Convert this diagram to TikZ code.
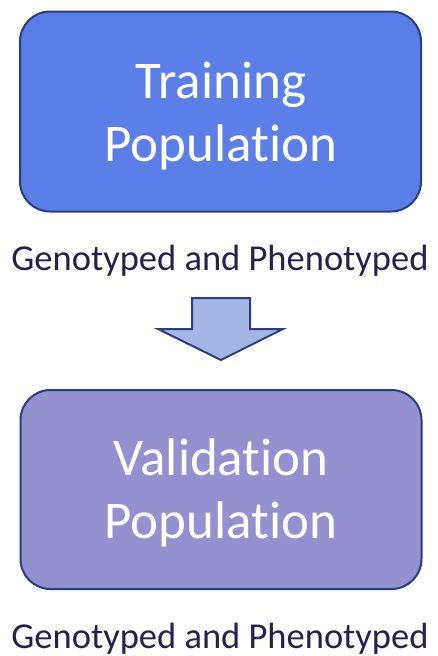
\documentclass[tikz,border=0pt]{standalone}
\usepackage{fontspec}
\setmainfont{Carlito}[Ligatures=NoCommon]
\definecolor{navyline}{RGB}{40,62,125}
\definecolor{trainfill}{RGB}{91,127,230}
\definecolor{valfill}{RGB}{149,145,208}
\definecolor{arrowfill}{RGB}{164,182,227}
\definecolor{labelcol}{RGB}{36,33,80}
\begin{document}
\begin{tikzpicture}[x=1pt,y=-1pt,
  popbox/.style={draw=navyline, line width=2pt, rounded corners=30pt, inner sep=0pt},
  boxtext/.style={text=white, font=\fontsize{53}{63}\selectfont, align=center, inner sep=0pt, anchor=base},
  labeltext/.style={text=labelcol, font=\fontsize{36.5}{42}\selectfont, inner sep=0pt, anchor=base},
  blockarrow/.style={draw=navyline, line width=2pt, fill=arrowfill, line join=miter}]
\useasboundingbox (0,0) rectangle (438,656);
% top box
\node[popbox, fill=trainfill, minimum width=401pt, minimum height=200pt] (train) at (220.5,111.5) {};
\node[boxtext] (traintxt) at (221,161.5) {Training\\Population};
\node[labeltext] (trainlabel) at (220,270) {Genotyped and Phenotyped};
% block arrow
\coordinate (a1) at (192,298);
\coordinate (a2) at (250,298);
\coordinate (a3) at (250,329);
\coordinate (a4) at (283,329);
\coordinate (a5) at (221,360);
\coordinate (a6) at (158,329);
\coordinate (a7) at (192,329);
\draw[blockarrow] (a1) -- (a2) -- (a3) -- (a4) -- (a5) -- (a6) -- (a7) -- cycle;
% bottom box
\node[popbox, fill=valfill, minimum width=401pt, minimum height=199pt] (val) at (221,489.5) {};
\node[boxtext] (valtxt) at (221,538) {Validation\\Population};
\node[labeltext] (vallabel) at (220,648) {Genotyped and Phenotyped};
\end{tikzpicture}
\end{document}
